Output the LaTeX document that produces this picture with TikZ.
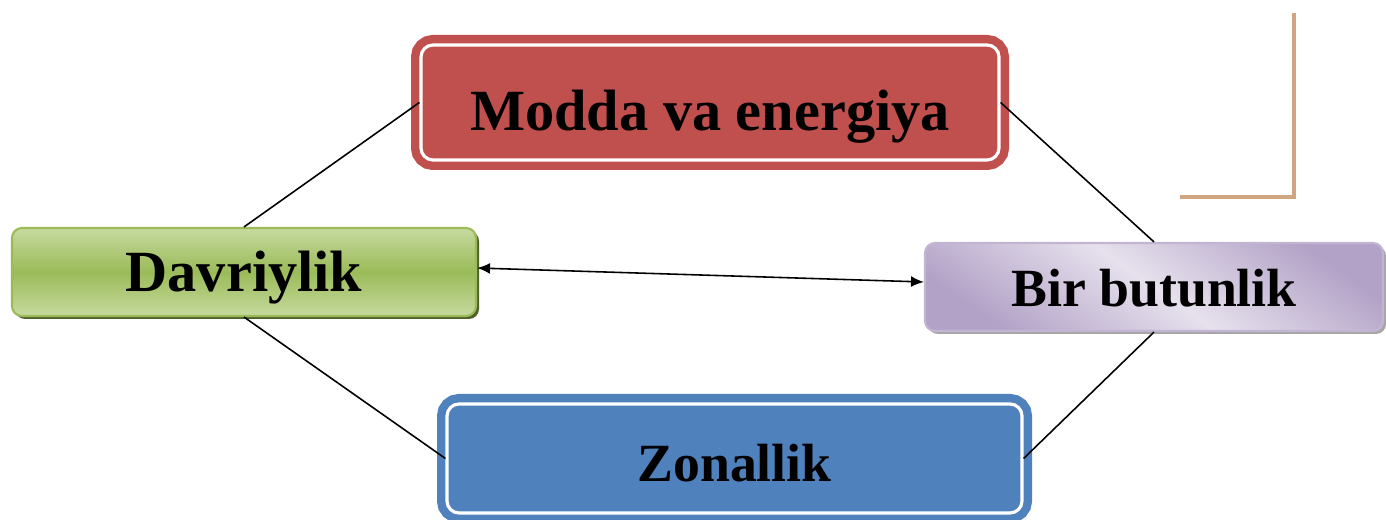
\documentclass[tikz,border=0pt]{standalone}
\usepackage{fontspec}
\setmainfont{Liberation Serif}
\usepackage{xcolor}
\usetikzlibrary{shadows,arrows.meta}
\definecolor{moddared}{HTML}{C0504D}
\definecolor{zonablue}{HTML}{4F81BD}
\definecolor{greenlight}{HTML}{C6DA9F}
\definecolor{greenmid}{HTML}{9BBB59}
\definecolor{greendark}{HTML}{4F6228}
\definecolor{purplight}{HTML}{E6E1ED}
\definecolor{purpdark}{HTML}{B3A2C7}
\definecolor{tanline}{HTML}{CFA582}

\begin{document}
\begin{tikzpicture}[every node/.style={font=\fontsize{16.6}{20}\selectfont\bfseries, text=black, inner sep=0pt, text depth=0pt, rounded corners=0.12cm}, framed/.style={fill=#1, draw=white, line width=0.9pt, preaction={draw=#1, line width=0.2cm}}, smaller/.style={font=\fontsize{15.3}{18}\selectfont\bfseries}, link/.style={black, line width=0.45pt}]
  \useasboundingbox (0,0) rectangle (13.86,5.2);
  \draw[tanline, line width=0.9pt] (11.80,3.23) -- (12.94,3.23) -- (12.94,5.07);
  \node[framed=moddared, minimum width=5.78cm, minimum height=1.15cm, text height=0.56cm] (modda) at (7.10,4.175) {Modda va energiya};
  \node[framed=zonablue, smaller, minimum width=5.75cm, minimum height=1.09cm, text height=0.46cm] (zonallik) at (7.345,0.615) {Zonallik};
  \node[draw=greenmid, line width=0.6pt, top color=greenlight, bottom color=greenlight, middle color=greenmid, general shadow={shadow xshift=0.03cm, shadow yshift=-0.03cm, fill=greendark}, minimum width=4.64cm, minimum height=0.88cm, text height=0.40cm, rounded corners=0.1cm] (davriylik) at (2.44,2.48) {Davriylik};
  \node[draw=purpdark!80, line width=0.6pt, smaller, top color=purpdark, bottom color=purpdark, middle color=purplight, shading angle=-35, general shadow={shadow xshift=0.03cm, shadow yshift=-0.03cm, fill=gray!70}, minimum width=4.58cm, minimum height=0.88cm, text height=0.40cm, rounded corners=0.1cm] (bir) at (11.54,2.33) {Bir butunlik};
  \draw[link] (modda.west) -- (davriylik.north);
  \draw[link] (modda.east) -- (bir.north);
  \draw[link] (davriylik.south) -- (zonallik.west);
  \draw[link] (bir.south) -- (zonallik.east);
  \draw[link, {Latex[length=0.13cm,width=0.11cm]}-{Latex[length=0.13cm,width=0.11cm]}] ([yshift=0.04cm]davriylik.east) -- ([yshift=0.05cm]bir.west);
\end{tikzpicture}
\end{document}
